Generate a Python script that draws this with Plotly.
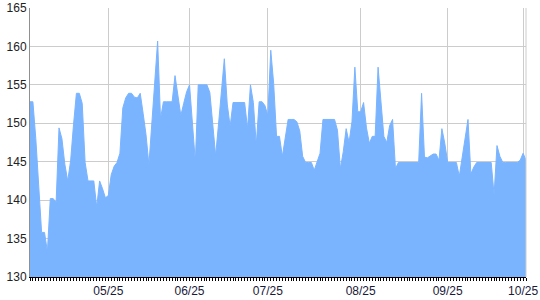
import plotly.graph_objects as go

values = [
    152.8, 152.8, 148.0, 142.0, 135.8, 135.8, 133.3, 140.2, 140.2, 139.7,
    149.4, 148.0, 144.7, 142.5, 145.1, 149.8, 153.9, 153.9, 152.6, 144.9,
    142.5, 142.5, 142.5, 139.1, 142.5, 141.5, 140.3, 140.6, 143.3, 144.4,
    144.9, 146.1, 152.0, 153.3, 153.9, 153.9, 153.4, 153.3, 153.9, 151.3,
    148.5, 144.6, 150.0, 155.5, 160.7, 150.6, 152.8, 152.8, 152.8, 152.8,
    156.2, 153.5, 151.0, 152.6, 154.1, 155.0, 149.4, 145.0, 155.0, 155.0,
    155.0, 155.0, 154.0, 150.1, 145.8, 149.9, 154.6, 158.4, 152.5, 149.6,
    152.7, 152.7, 152.7, 152.7, 152.7, 149.3, 155.0, 152.7, 147.2, 152.8,
    152.8, 152.3, 151.0, 159.5, 155.2, 148.3, 148.3, 145.7, 148.0, 150.5,
    150.5, 150.5, 150.2, 149.0, 145.7, 144.9, 144.9, 144.9, 143.9, 144.9,
    146.1, 150.5, 150.5, 150.5, 150.5, 150.5, 149.1, 144.1, 146.3, 149.3,
    147.5, 150.2, 157.3, 151.5, 151.5, 152.7, 149.4, 147.4, 148.3, 148.3,
    157.3, 152.8, 148.3, 147.5, 149.7, 150.5, 144.1, 144.9, 144.9, 144.9,
    144.9, 144.9, 144.9, 144.9, 144.9, 153.9, 145.6, 145.5, 145.8, 146.0,
    146.0, 145.2, 149.3, 147.4, 144.9, 144.9, 144.9, 144.9, 143.1, 145.7,
    148.4, 150.5, 143.4, 144.3, 144.9, 144.9, 144.9, 144.9, 144.9, 144.9,
    140.7, 147.1, 145.7, 144.9, 144.9, 144.9, 144.9, 144.9, 144.9, 145.2,
    146.1, 145.2,
]
x_index = list(range(len(values)))

tick_index = [27, 55, 82, 114, 144, 170]
tick_labels = ["05/25", "06/25", "07/25", "08/25", "09/25", "10/25"]

y_min, y_max, y_step = 130, 165, 5

fig = go.Figure()
fig.add_trace(go.Scatter(
    x=x_index, y=values, mode="lines", fill="tozeroy",
    line=dict(color="#7ab4ff", width=1),
    fillcolor="#7ab4ff", hoverinfo="skip",
))

fig.update_layout(
    width=540, height=300,
    margin=dict(l=30, r=14, t=8, b=23),
    paper_bgcolor="white", plot_bgcolor="white",
    showlegend=False,
    font=dict(family="Liberation Sans, Arial, sans-serif", size=12, color="#222"),
)
fig.update_xaxes(
    automargin=False,
    range=[0, len(values) - 1],
    tickmode="array", tickvals=tick_index, ticktext=tick_labels,
    ticks="outside", ticklen=3, tickcolor="black", tickwidth=1,
    showgrid=True, gridcolor="#cccccc", gridwidth=1,
    showline=True, linecolor="black", linewidth=1,
    zeroline=False,
    minor=dict(ticks="outside", tickmode="linear", tick0=0, dtick=1,
               ticklen=3, tickcolor="black", tickwidth=1, showgrid=False),
    tickfont=dict(size=12, color="#1a1a3a"),
)
fig.update_yaxes(
    automargin=False,
    range=[y_min, y_max], dtick=y_step, tick0=y_min,
    showgrid=True, gridcolor="#cccccc", gridwidth=1,
    showline=True, linecolor="#909090", linewidth=1,
    ticks="", zeroline=False,
    tickfont=dict(size=12, color="#222"),
    layer="below traces",
)
fig.add_shape(type="line", xref="paper", yref="paper", x0=1, x1=1, y0=0, y1=1,
              line=dict(color="#cccccc", width=1))

fig.write_html("out.html")
